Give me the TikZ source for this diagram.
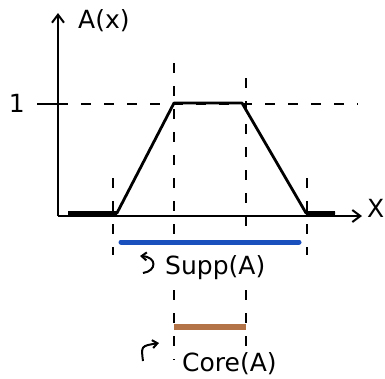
\documentclass[tikz,border=0pt]{standalone}
\usepackage{fontspec}
\setmainfont{DejaVu Sans}
\usetikzlibrary{arrows.meta}
\definecolor{suppblue}{RGB}{25,80,190}
\definecolor{corebrown}{RGB}{180,115,70}
\tikzset{
  axis/.style={line width=2.6pt,-{Straight Barb[length=8pt,width=12pt,line width=2pt]}},
  memb/.style={line width=2.8pt,line join=round},
  guide/.style={line width=1.8pt,dash pattern=on 10pt off 13pt},
  tickmark/.style={line width=2pt},
  suppbar/.style={line width=5pt,color=suppblue,line cap=round},
  corebar/.style={line width=6pt,color=corebrown},
  lbl/.style={inner sep=1pt,font=\fontsize{25}{27}\selectfont},
  hook/.style={line width=2pt,-{Straight Barb[length=5pt,width=8pt]}}
}

\begin{document}
\begin{tikzpicture}[x=1pt,y=-1pt]
\useasboundingbox (0,0) rectangle (385,378);
% axes
\coordinate (O) at (58,216);
\coordinate (ytip) at (58,13);
\coordinate (xtip) at (362,216);
\draw[axis] (O) -- (ytip);
\draw[axis] (O) -- (xtip);
\node[lbl,anchor=west] (ylab) at (77,21) {A(x)};
\node[lbl,anchor=west] (xlab) at (366,208) {X};
% level 1
\coordinate (one) at (37,104);
\coordinate (oneend) at (358,104);
\node[lbl,anchor=east] (onelab) at (26,103) {1};
\draw[tickmark] (one) -- (O |- one);
\draw[guide] (O |- one) -- (oneend);
% membership function
\coordinate (a) at (68,213);
\coordinate (b) at (117,213);
\coordinate (c) at (174,103);
\coordinate (d) at (242,103);
\coordinate (e) at (306,213);
\coordinate (f) at (335,213);
\draw[memb] (a) -- (b) -- (c) -- (d) -- (e) -- (f);
\draw[line width=4.5pt] (a) -- (b);
\draw[line width=4.5pt] (e) -- (f);
% guides
\draw[guide] (113,178) -- (113,255);
\draw[guide] (307,178) -- (307,255);
\draw[guide] (174,63) -- (174,236);
\draw[guide] (174,290) -- (174,360);
\draw[guide] (246,78) -- (246,236);
\draw[guide] (246,290) -- (246,356);
% support
\node[coordinate] (s1) at (121,242) {};
\node[coordinate] (s2) at (299,242) {};
\draw[suppbar] (s1) -- (s2);
\node[lbl,anchor=west] (supp) at (164,268) {Supp(A)};
\draw[hook] (143,273) .. controls (157,271) and (157,257) .. (140,256);
% core
\node[coordinate] (c1) at (174,327) {};
\node[coordinate] (c2) at (246,327) {};
\draw[corebar] (c1) -- (c2);
\node[lbl,anchor=west,fill=white] (core) at (181,364) {Core(A)};
\draw[hook] (143,361) .. controls (141,346) .. (159,343);
\end{tikzpicture}
\end{document}
